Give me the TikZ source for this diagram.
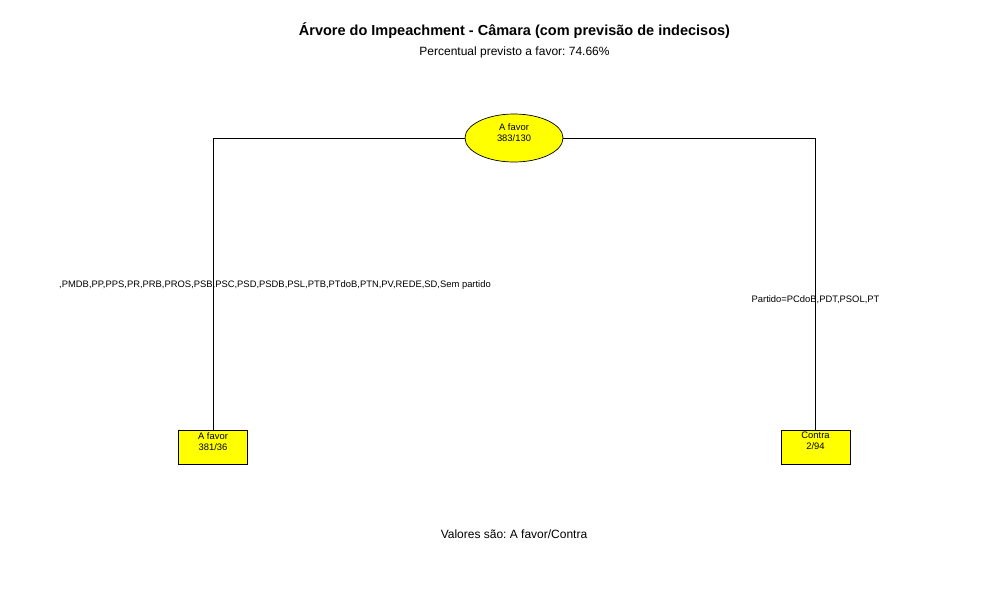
\documentclass[tikz,border=0pt]{standalone}
\usepackage{fontspec}
\setmainfont{Liberation Sans}
\usetikzlibrary{shapes.geometric}
\definecolor{nodeyellow}{HTML}{FFFF00}
\frenchspacing
\begin{document}
\begin{tikzpicture}[x=1pt,y=-1pt,
  edge/.style={draw=black,line width=0.8pt},
  rootnode/.style={ellipse,draw=black,fill=nodeyellow,line width=0.7pt,minimum width=98,minimum height=48,inner sep=0},
  leafnode/.style={rectangle,draw=black,fill=nodeyellow,line width=0.7pt,minimum width=69,minimum height=34,inner sep=0},
  ntext/.style={font=\fontsize{9.4}{11}\selectfont,align=center,inner sep=0},
  splitlabel/.style={font=\fontsize{9.4}{11}\selectfont,inner sep=0},
  titletext/.style={font=\fontsize{14.5}{17}\selectfont\bfseries,inner sep=0},
  subtext/.style={font=\fontsize{12}{14}\selectfont,inner sep=0}]
\fill[white] (0,0) rectangle (1000,600);
\useasboundingbox (0,0) rectangle (1000,600);
\node[titletext] (title) at (514.5,31) {\frenchspacing Árvore do Impeachment - Câmara (com previsão de indecisos)};
\node[subtext] (subtitle) at (514.5,52) {\frenchspacing Percentual previsto a favor: 74.66\%};
\node[subtext] (footer) at (514,534) {\frenchspacing Valores são: A favor/Contra};
\node[rootnode,label={[ntext,yshift=5]center:A favor\\383/130}] (root) at (514,138) {};
\node[leafnode,label={[ntext,anchor=north,yshift=-2.5]north:A favor\\381/36}] (left) at (213,447) {};
\node[leafnode,label={[ntext,anchor=north,yshift=-2.5]north:Contra\\2/94}] (right) at (815.5,447) {};
\draw[edge] (root.west) -| (left.north);
\draw[edge] (root.east) -| (right.north);
\node[splitlabel] (leftlab) at (275,285) {,PMDB,PP,PPS,PR,PRB,PROS,PSB,PSC,PSD,PSDB,PSL,PTB,PTdoB,PTN,PV,REDE,SD,Sem partido};
\node[splitlabel] (rightlab) at (815.5,300) {Partido=PCdoB,PDT,PSOL,PT};
\end{tikzpicture}
\end{document}
